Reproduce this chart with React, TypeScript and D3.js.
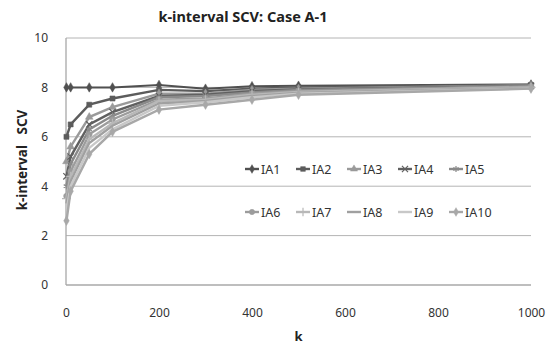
import React, { useEffect, useRef } from 'react'
import * as d3 from 'd3'

const kValues = [1, 10, 50, 100, 200, 300, 400, 500, 1000]
const seriesNames = ['IA1', 'IA2', 'IA3', 'IA4', 'IA5', 'IA6', 'IA7', 'IA8', 'IA9', 'IA10']
const ia1 = [8.0, 8.0, 8.0, 8.0, 8.1, 7.95, 8.05, 8.07, 8.12]
const ia2 = [6.0, 6.5, 7.3, 7.55, 7.9, 7.85, 7.95, 8.0, 8.1]
const ia3 = [5.0, 5.6, 6.8, 7.2, 7.75, 7.75, 7.9, 7.95, 8.08]
const ia4 = [4.4, 5.2, 6.5, 7.0, 7.65, 7.7, 7.85, 7.92, 8.06]
const ia5 = [4.0, 4.9, 6.3, 6.85, 7.6, 7.65, 7.8, 7.9, 8.05]
const ia6 = [3.6, 4.6, 6.1, 6.7, 7.5, 7.55, 7.75, 7.85, 8.03]
const ia7 = [3.5, 4.4, 5.9, 6.55, 7.45, 7.5, 7.7, 7.82, 8.0]
const ia8 = [3.3, 4.2, 5.75, 6.45, 7.35, 7.45, 7.65, 7.78, 7.98]
const ia9 = [3.0, 4.0, 5.55, 6.3, 7.25, 7.4, 7.6, 7.75, 7.96]
const ia10 = [2.6, 3.8, 5.3, 6.2, 7.1, 7.3, 7.5, 7.7, 7.95]
const seriesValues = [ia1, ia2, ia3, ia4, ia5, ia6, ia7, ia8, ia9, ia10]
const xTicks = [0, 200, 400, 600, 800, 1000]
const yTicks = [0, 2, 4, 6, 8, 10]

const colors = ['#505050', '#5c5c5c', '#9a9a9a', '#606060', '#8a8a8a', '#9c9c9c', '#b8b8b8', '#a0a0a0', '#c8c8c8', '#a8a8a8']
// marker per series (null = plain line)
const markers: any[] = [
  d3.symbolDiamond, d3.symbolSquare, d3.symbolTriangle, d3.symbolTimes, d3.symbolAsterisk,
  d3.symbolCircle, d3.symbolPlus, null, null, d3.symbolDiamond,
]
const strokeMarkers = [false, false, false, true, true, false, true, false, false, false]

const W = 552, H = 345
const margin = { top: 38, right: 21, bottom: 60, left: 66 }
const font = '"Noto Sans", "DejaVu Sans", sans-serif'

export default function App() {
  const ref = useRef<SVGSVGElement>(null)

  useEffect(() => {
    const svg = d3.select(ref.current)
    svg.selectAll('*').remove()
    const w = W - margin.left - margin.right
    const h = H - margin.top - margin.bottom

    const x = d3.scaleLinear().domain([0, 1000]).range([0, w])
    const y = d3.scaleLinear().domain([0, 10]).range([h, 0])

    const g = svg.append('g').attr('transform', `translate(${margin.left},${margin.top})`)

    // gridlines
    g.selectAll('line.grid').data(yTicks.filter(t => t > 0)).enter().append('line')
      .attr('x1', 0).attr('x2', w)
      .attr('y1', d => y(d)).attr('y2', d => y(d))
      .attr('stroke', '#b4b4b4').attr('stroke-width', 1)

    // axes
    const xAxis = g.append('g').attr('transform', `translate(0,${h})`)
      .call(d3.axisBottom(x).tickValues(xTicks).tickFormat(d3.format('d')).tickSize(0).tickPadding(23))
    const yAxis = g.append('g')
      .call(d3.axisLeft(y).tickValues(yTicks).tickSize(0).tickPadding(18))
    for (const ax of [xAxis, yAxis]) {
      ax.select('.domain').attr('stroke', '#a8a8a8').attr('stroke-width', 1.3)
      ax.selectAll('text').style('font-family', font).style('font-size', '12px').attr('fill', '#333')
    }
    yAxis.select('.domain').attr('d', `M0,0V${h}`)
    xAxis.select('.domain').attr('d', `M0,0H${w}`)

    // series
    const line = d3.line<number>().x((d, i) => x(kValues[i])).y(d => y(d))
    seriesValues.forEach((vals, s) => {
      g.append('path').datum(vals)
        .attr('d', line)
        .attr('fill', 'none')
        .attr('stroke', colors[s])
        .attr('stroke-width', s === 0 ? 2 : 2.4)
      if (markers[s]) {
        const sym = d3.symbol(markers[s], strokeMarkers[s] ? 28 : 26)
        g.selectAll(null).data(vals).enter().append('path')
          .attr('d', sym)
          .attr('transform', (d, i) => `translate(${x(kValues[i])},${y(d)})`)
          .attr('fill', strokeMarkers[s] ? 'none' : colors[s])
          .attr('stroke', colors[s])
          .attr('stroke-width', strokeMarkers[s] ? 1.2 : 0.5)
      }
    })

    // legend
    const legendX = [245, 296, 347, 398, 449]
    const legendY = [169, 212]
    seriesNames.forEach((name, s) => {
      const lx = legendX[s % 5] - margin.left
      const ly = legendY[Math.floor(s / 5)] - margin.top
      const lg = g.append('g').attr('transform', `translate(${lx},${ly})`)
      lg.append('line').attr('x1', 0).attr('x2', 14).attr('y1', 0).attr('y2', 0)
        .attr('stroke', colors[s]).attr('stroke-width', 2.4)
      if (markers[s]) {
        lg.append('path').attr('d', d3.symbol(markers[s], strokeMarkers[s] ? 26 : 22))
          .attr('transform', 'translate(7,0)')
          .attr('fill', strokeMarkers[s] ? 'none' : colors[s])
          .attr('stroke', colors[s])
          .attr('stroke-width', strokeMarkers[s] ? 1.2 : 0.5)
      }
      lg.append('text').attr('x', 16).attr('y', 4.5)
        .style('font-family', font).style('font-size', '12.5px').attr('fill', '#333')
        .text(name)
    })

    // title
    svg.append('text')
      .attr('x', 243).attr('y', 22)
      .attr('text-anchor', 'middle')
      .style('font-family', font).style('font-size', '14.5px').style('font-weight', 'bold')
      .attr('fill', '#222')
      .text('k-interval SCV: Case A-1')

    // axis titles
    svg.append('text')
      .attr('x', margin.left + w / 2).attr('y', 341)
      .attr('text-anchor', 'middle')
      .style('font-family', font).style('font-size', '13px').style('font-weight', 'bold')
      .attr('fill', '#222')
      .text('k')
    svg.append('text')
      .attr('transform', 'translate(27,160) rotate(-90)')
      .attr('text-anchor', 'middle')
      .style('font-family', font).style('font-size', '13.5px').style('font-weight', 'bold')
      .style('white-space', 'pre')
      .attr('fill', '#222')
      .text('k-interval   SCV')
  }, [])

  return (
    <svg ref={ref} width={W} height={H}
      style={{ position: 'absolute', left: 0, top: 0, background: '#fff' }} />
  )
}
